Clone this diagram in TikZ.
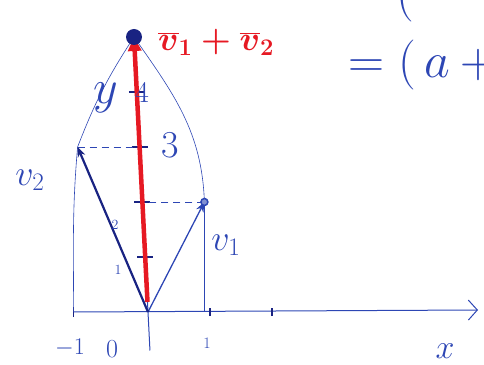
\RequirePackage{fix-cm}
\documentclass[tikz,border=0pt]{standalone}
\usepackage{tikz}
\usetikzlibrary{arrows.meta, positioning}
\definecolor{ink}{RGB}{45,70,180}
\definecolor{darkink}{RGB}{25,35,130}
\definecolor{redink}{RGB}{230,25,35}

\begin{document}
\begin{tikzpicture}[
    x={(62pt,0pt)}, y={(-2.8pt,55pt)},
    axis/.style={ink, line width=1pt},
    vec/.style={ink, line width=1.3pt, -{Stealth[length=10pt, width=8pt]}},
    guide/.style={ink, line width=0.6pt},
    dashguide/.style={ink, line width=0.8pt, dash pattern=on 7pt off 5pt},
    tickmark/.style={darkink, line width=1.1pt},
    lab/.style={ink, inner sep=0pt},
]
\useasboundingbox (-148pt,-52pt) rectangle (336pt,312pt);

% points of the sketch
\coordinate (O) at (0,0);
\coordinate (v1) at (1,2);
\coordinate (v2) at (-1,3);
\coordinate (s) at (0,5);
\coordinate (ybot) at (0,-0.7);
\coordinate (xl) at ([xshift=-4pt]v2 |- O);
\coordinate (xr) at (v1 |- O);
\coordinate (xend) at (330pt,2pt);

% axes
\draw[axis, -{Straight Barb[length=9pt, width=20pt]}] (xl) -- (xend);
\draw[axis] (ybot) -- (s);
\draw[tickmark] ([yshift=-5pt]xl) -- ([yshift=5pt]xl);
\foreach \k in {1,2}
  \draw[tickmark] ([yshift=-4pt]\k,0) -- ([yshift=4pt]\k,0);
\foreach \k in {1,...,4}
  \draw[tickmark] ([xshift=-8pt]0,\k) -- ([xshift=8pt]0,\k);

% parallelogram and projections
\draw[guide] (v2) to[bend left=6] (s);
\draw[guide] (s) to[out=-55, in=92] (v1);
\draw[guide] (v2) to[out=-95, in=90] (xl);
\draw[guide] (v1) -- (xr);
\draw[dashguide] (v1) -- (0,2);
\draw[dashguide] (v2) -- (0,3);

% vectors
\draw[vec] (O) -- (v1);
\draw[vec, darkink, line width=2.2pt] (O) -- (v2);
\draw[redink, line width=4.5pt, shorten <=10pt,
      -{Triangle[length=14pt, width=13pt]}] (O) -- (s);
\fill[darkink] (s) circle (8pt);
\draw[ink, line width=1.5pt, fill=ink!60] (v1) circle (3.5pt);

% labels
\node[redink, inner sep=0pt, font=\fontsize{34}{36}\selectfont\boldmath]
  (sumlab) at (68pt,270pt) {$\overline{v}_1+\overline{v}_2$};
\node[lab, font=\fontsize{36}{38}\selectfont] (v2lab) at (-118pt,132pt) {$v_2$};
\node[lab, font=\fontsize{36}{38}\selectfont] (v1lab) at (78pt,67pt) {$v_1$};
\node[lab, font=\fontsize{48}{50}\selectfont] (ylab) at (-42pt,214pt) {$y$};
\node[lab, font=\fontsize{30}{32}\selectfont] (four) at (-6pt,220pt) {4};
\node[lab, font=\fontsize{38}{40}\selectfont] (three) at (22pt,167pt) {3};
\node[lab, font=\fontsize{14}{16}\selectfont] (two) at (-33pt,87pt) {2};
\node[lab, font=\fontsize{14}{16}\selectfont] (one) at (-30pt,42pt) {1};
\node[lab, font=\fontsize{24}{26}\selectfont] (mone) at (-78pt,-36pt) {$-1$};
\node[lab, font=\fontsize{26}{28}\selectfont] (zero) at (-36pt,-37pt) {0};
\node[lab, font=\fontsize{16}{18}\selectfont] (xone) at (59pt,-31pt) {1};
\node[lab, font=\fontsize{34}{36}\selectfont] (xlab) at (297pt,-39pt) {$x$};

% formula running off the page
\node[lab, anchor=south, font=\fontsize{50}{52}\selectfont] (toppar) at (257pt,290pt) {$($};
\node[lab, anchor=west, font=\fontsize{50}{52}\selectfont] (eqn) at (200pt,247pt) {$=(\,a+{}$};
\end{tikzpicture}
\end{document}
